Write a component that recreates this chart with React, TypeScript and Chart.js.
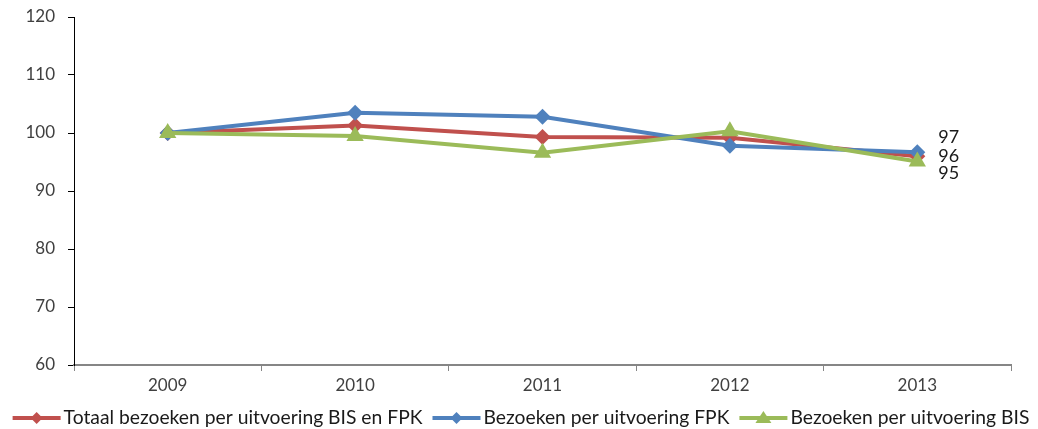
import React, { useEffect, useRef } from "react";
import { Chart, registerables } from "chart.js";

Chart.register(...registerables);

const categories = ["2009", "2010", "2011", "2012", "2013"];
const seriesNames = [
  "Totaal bezoeken per uitvoering BIS en FPK",
  "Bezoeken per uitvoering FPK",
  "Bezoeken per uitvoering BIS",
];
const totaal = [100, 101.3, 99.3, 99.2, 96.0];
const fpk = [100, 103.5, 102.8, 97.8, 96.7];
const bis = [100, 99.5, 96.6, 100.3, 95.1];
const endLabels = ["96", "97", "95"];
const yTicks = [60, 70, 80, 90, 100, 110, 120];

const colors = ["#C0504D", "#4F81BD", "#9BBB59"];
const FONT = "Lato";

const endLabelPlugin = {
  id: "endLabels",
  afterDatasetsDraw(chart: any) {
    const ctx = chart.ctx;
    const offsets = [0, -15, 12];
    ctx.save();
    ctx.font = `18px ${FONT}`;
    ctx.fillStyle = "#1a1a1a";
    ctx.textAlign = "left";
    ctx.textBaseline = "middle";
    chart.data.datasets.forEach((ds: any, i: number) => {
      const meta = chart.getDatasetMeta(i);
      const pt = meta.data[meta.data.length - 1];
      if (!pt) return;
      ctx.fillText(endLabels[i], pt.x + 21, pt.y + offsets[i]);
    });
    ctx.restore();
  },
};

const legendPlugin = {
  id: "customLegend",
  afterDraw(chart: any) {
    const ctx = chart.ctx;
    const y = 418;
    const lineLen = 48;
    const gapText = 3;
    const gapItem = 10;
    ctx.save();
    ctx.font = `19.3px ${FONT}`;
    const widths = seriesNames.map((n) => ctx.measureText(n).width);
    const total =
      widths.reduce((a, b) => a + b, 0) +
      seriesNames.length * (lineLen + gapText) +
      (seriesNames.length - 1) * gapItem;
    let x = (chart.width - total) / 2 + 2;
    seriesNames.forEach((name, i) => {
      const c = colors[i];
      ctx.strokeStyle = c;
      ctx.lineWidth = 4;
      ctx.beginPath();
      ctx.moveTo(x, y);
      ctx.lineTo(x + lineLen, y);
      ctx.stroke();
      const cx = x + lineLen / 2;
      ctx.fillStyle = c;
      ctx.beginPath();
      if (i < 2) {
        ctx.moveTo(cx, y - 6);
        ctx.lineTo(cx + 6, y);
        ctx.lineTo(cx, y + 6);
        ctx.lineTo(cx - 6, y);
      } else {
        ctx.moveTo(cx, y - 7);
        ctx.lineTo(cx + 8, y + 5);
        ctx.lineTo(cx - 8, y + 5);
      }
      ctx.closePath();
      ctx.fill();
      ctx.fillStyle = "#1a1a1a";
      ctx.textAlign = "left";
      ctx.textBaseline = "middle";
      ctx.fillText(name, x + lineLen + gapText, y);
      x += lineLen + gapText + widths[i] + gapItem;
    });
    ctx.restore();
  },
};

export default function App() {
  const ref = useRef<HTMLCanvasElement | null>(null);

  useEffect(() => {
    document.body.style.margin = "0";
    if (!ref.current) return;
    const mk = (label: string, data: number[], i: number, style: string, radius: number, order: number) => ({
      label,
      data,
      borderColor: colors[i],
      backgroundColor: colors[i],
      pointBackgroundColor: colors[i],
      pointBorderColor: colors[i],
      pointStyle: style,
      pointRadius: radius,
      pointBorderWidth: 0,
      borderWidth: 4,
      tension: 0,
      order,
    });
    const chart = new Chart(ref.current, {
      type: "line",
      data: {
        labels: categories,
        datasets: [
          mk(seriesNames[0], totaal, 0, "rectRot", 8, 3),
          mk(seriesNames[1], fpk, 1, "rectRot", 8, 2),
          mk(seriesNames[2], bis, 2, "triangle", 10, 1),
        ],
      },
      options: {
        animation: false,
        responsive: false,
        maintainAspectRatio: false,
        layout: { padding: { left: 0, right: 27, top: 17, bottom: 0 } },
        plugins: {
          legend: { display: false },
          tooltip: { enabled: false },
        },
        scales: {
          x: {
            type: "category",
            offset: true,
            grid: {
              offset: true,
              drawOnChartArea: false,
              drawTicks: true,
              tickLength: 6,
              color: "#868686",
              lineWidth: 1,
            },
            border: { display: true, color: "#868686", width: 2 },
            ticks: {
              font: { family: FONT, size: 17 },
              color: "#404040",
              padding: 4,
              maxRotation: 0,
            },
            afterFit(scale: any) {
              scale.height = 64;
              scale.paddingLeft = 0;
              scale.paddingRight = 0;
            },
          },
          y: {
            min: 60,
            max: 120,
            afterBuildTicks(scale: any) {
              scale.ticks = yTicks.map((v) => ({ value: v }));
            },
            grid: {
              drawOnChartArea: false,
              drawTicks: true,
              tickLength: 6,
              color: "#000000",
            },
            border: { display: true, color: "#000000", width: 1 },
            ticks: {
              font: { family: FONT, size: 17 },
              color: "#404040",
              padding: 13,
            },
            afterFit(scale: any) {
              scale.width = 74;
              scale.paddingTop = 0;
              scale.paddingBottom = 0;
            },
          },
        },
      },
      plugins: [endLabelPlugin, legendPlugin],
    } as any);
    return () => chart.destroy();
  }, []);

  return (
    <div style={{ position: "absolute", left: 0, top: 0, width: 1038, height: 429, background: "#fff" }}>
      <canvas ref={ref} width={1038} height={429} style={{ width: 1038, height: 429 }} />
    </div>
  );
}
